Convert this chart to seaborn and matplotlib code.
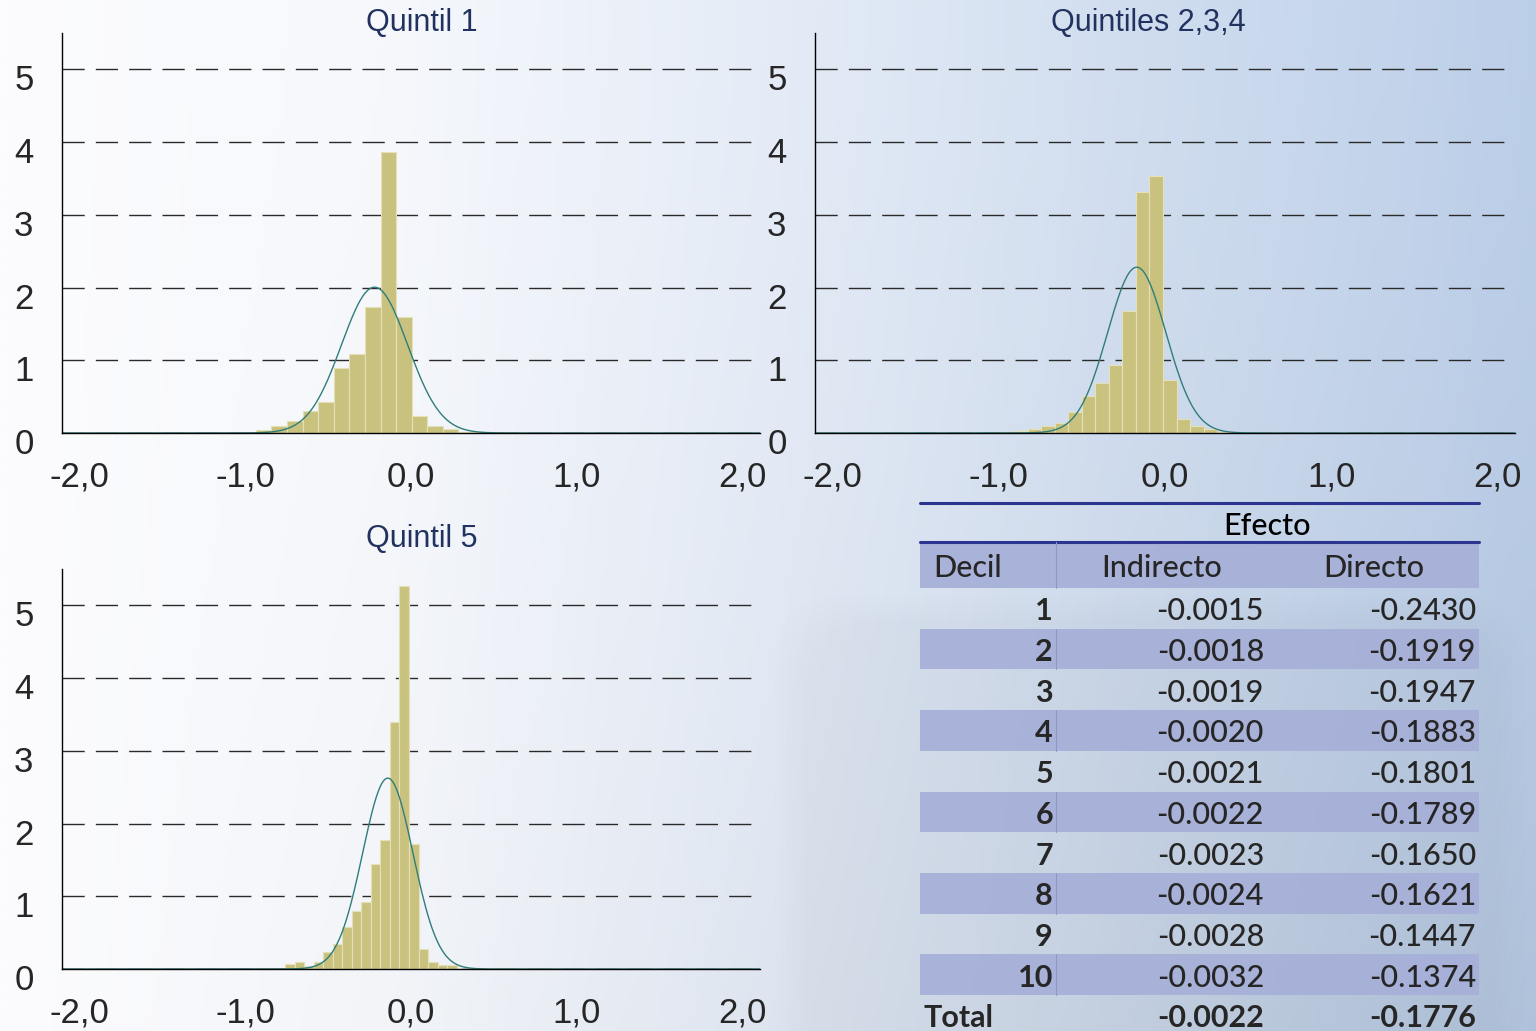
import numpy as np
import pandas as pd
import seaborn as sns
import matplotlib.pyplot as plt
from matplotlib import transforms
from matplotlib.colors import LinearSegmentedColormap
from matplotlib.patches import Rectangle, FancyBboxPatch

sns.set_style("white")
plt.rcParams['font.family'] = ['Liberation Sans', 'DejaVu Sans']

# histogram bins (first edge, bin width) and densities
q1_start, q1_width = -0.936, 0.094
q1_heights = [0.04, 0.09, 0.17, 0.30, 0.43, 0.89, 1.09, 1.73, 3.87, 1.59,
              0.24, 0.10, 0.05, 0.02, 0.01]
q234_start, q234_width = -0.990, 0.0815
q234_heights = [0.02, 0.03, 0.05, 0.09, 0.14, 0.29, 0.51, 0.69, 0.94, 1.68,
                3.31, 3.53, 0.73, 0.19, 0.10, 0.05, 0.01]
q5_start, q5_width = -0.932, 0.0575
q5_heights = [0.01, 0.01, 0.02, 0.07, 0.10, 0.04, 0.10, 0.23, 0.35, 0.58,
              0.80, 0.92, 1.45, 1.78, 3.39, 5.26, 1.72, 0.27, 0.09, 0.06,
              0.06, 0.0, 0.0, 0.0, 0.0, 0.02]

# fitted normal overlay (mean, sd)
q1_norm = (-0.22, 0.199)
q234_norm = (-0.17, 0.175)
q5_norm = (-0.14, 0.152)

titles = ['Quintil 1', 'Quintiles 2,3,4', 'Quintil 5']
x_ticks = [-2, -1, 0, 1, 2]
x_labels = ['-2,0', '-1,0', '0,0', '1,0', '2,0']
y_ticks = [0, 1, 2, 3, 4, 5]

# table
deciles = ['1', '2', '3', '4', '5', '6', '7', '8', '9', '10']
indirecto = ['-0.0015', '-0.0018', '-0.0019', '-0.0020', '-0.0021',
             '-0.0022', '-0.0023', '-0.0024', '-0.0028', '-0.0032']
directo = ['-0.2430', '-0.1919', '-0.1947', '-0.1883', '-0.1801',
           '-0.1789', '-0.1650', '-0.1621', '-0.1447', '-0.1374']
total_ind = '-0.0022'
total_dir = '-0.1776'

W, H = 1536, 1031
fig = plt.figure(figsize=(W / 100, H / 100), dpi=100)

# background: light gradient, white to pale blue
bg = fig.add_axes([0, 0, 1, 1], zorder=-5)
bg.set_xlim(0, W)
bg.set_ylim(H, 0)
bg.axis('off')
grad = LinearSegmentedColormap.from_list(
    'bg', [(0.0, '#fcfcfe'), (0.25, '#f6f8fc'), (0.5, '#e5ecf7'),
           (0.75, '#d0ddef'), (1.0, '#bccfe9')])
gx = np.linspace(0, 1, 400)
gy = np.linspace(0, 1, 200)
img = grad(gx)[None, :, :3].repeat(len(gy), axis=0)
shade = 1 - 0.06 * (gy[:, None] ** 1.5) * gx[None, :]
img = img * shade[:, :, None]
bg.imshow(img, extent=[0, W, H, 0], aspect='auto', interpolation='bilinear')
# faint ghost of the backdrop picture
for k in range(6):
    bg.add_patch(FancyBboxPatch((775 + k * 6, 595 + k * 5), 750 - k * 12, 500,
                                boxstyle='round,pad=0,rounding_size=70',
                                facecolor='#9aa3b3', edgecolor='none', alpha=0.008))

bar_color = '#c9c27e'
edge_color = '#e4e0b8'
curve_color = '#2f7d7b'


def draw_panel(ax, start, width, heights, norm, title, tx, ty):
    n = len(heights)
    centers = start + width * (np.arange(n) + 0.5)
    df = pd.DataFrame({'x': centers, 'd': heights})
    sns.histplot(data=df, x='x', weights='d', binwidth=width,
                 binrange=(start, start + n * width), stat='count',
                 color=bar_color, alpha=1, edgecolor=edge_color, linewidth=0.8, ax=ax)
    mu, sd = norm
    xs = np.linspace(-2.106, 2.106, 600)
    ys = np.exp(-0.5 * ((xs - mu) / sd) ** 2) / (sd * np.sqrt(2 * np.pi))
    sns.lineplot(x=xs, y=ys, color=curve_color, linewidth=1.0, ax=ax)
    ax.set_facecolor('none')
    ax.set_xlim(-2.106, 2.106)
    ax.set_ylim(0, 5.5)
    ax.set_xticks(x_ticks)
    ax.set_xticklabels(x_labels)
    ax.set_yticks(y_ticks)
    ax.set_xlabel('')
    ax.set_ylabel('')
    ax.set_axisbelow(True)
    ax.yaxis.grid(True, color='#2a2a2a', linestyle=(0, (16, 8)), linewidth=1.0)
    ax.xaxis.grid(False)
    for s in ['top', 'right']:
        ax.spines[s].set_visible(False)
    for s in ['left', 'bottom']:
        ax.spines[s].set_color('black')
        ax.spines[s].set_linewidth(1.0)
    ax.tick_params(axis='x', direction='out', length=7, width=1, color='black',
                   labelsize=25, pad=13)
    ax.tick_params(axis='y', direction='out', length=9.5, width=1, color='black',
                   labelsize=25, pad=11)
    off = transforms.ScaledTranslation(0, -8 / 100, fig.dpi_scale_trans)
    for lab in ax.get_yticklabels():
        lab.set_transform(lab.get_transform() + off)
    fig.text(tx / W, 1 - ty / H, title, ha='center', va='center',
             fontsize=22, color='#22325f')


ax1 = fig.add_axes([62 / W, 1 - 433 / H, 698 / W, 400 / H])
ax2 = fig.add_axes([815 / W, 1 - 433 / H, 700 / W, 400 / H])
ax3 = fig.add_axes([62 / W, 1 - 969 / H, 698 / W, 400 / H])
draw_panel(ax1, q1_start, q1_width, q1_heights, q1_norm, titles[0], 422, 23)
draw_panel(ax2, q234_start, q234_width, q234_heights, q234_norm, titles[1], 1148, 23)
draw_panel(ax3, q5_start, q5_width, q5_heights, q5_norm, titles[2], 422, 539)

# table drawn on the background axes (pixel layout)
tfont = ['Lato', 'DejaVu Sans']
tsize = 22
tw = 'medium'
line_c = '#2b3590'
band_c = '#a7b0d8'
sep_c = '#8e97c9'
tl, tr = 920, 1479
c1, c2 = 1056, 1268
row_h = 40.7
hdr_top, hdr_bot = 542, 588
dy = 3

bg.plot([tl, tr], [503, 503], color=line_c, lw=2.2)
bg.add_patch(Rectangle((tl, hdr_top), tr - tl, hdr_bot - hdr_top, facecolor=band_c,
                       edgecolor='none', alpha=0.95))
bg.plot([tl, tr], [hdr_top, hdr_top], color=line_c, lw=2.2)
bg.plot([c1, c1], [hdr_top, hdr_bot], color=sep_c, lw=0.8)
bg.text((c1 + tr) / 2, 523 + dy, 'Efecto', ha='center', va='center', fontsize=tsize,
        family=tfont, fontweight=tw, color='black')
hy = (hdr_top + hdr_bot) / 2 + dy
bg.text(933, hy, 'Decil', ha='left', va='center', fontsize=tsize, family=tfont, fontweight=tw)
bg.text((c1 + c2) / 2, hy, 'Indirecto', ha='center', va='center', fontsize=tsize,
        family=tfont, fontweight=tw)
bg.text((c2 + tr) / 2, hy, 'Directo', ha='center', va='center', fontsize=tsize,
        family=tfont, fontweight=tw)

for i, (d, vi, vd) in enumerate(zip(deciles, indirecto, directo)):
    y0 = hdr_bot + i * row_h
    yc = y0 + row_h / 2 + dy
    if i % 2 == 1:
        bg.add_patch(Rectangle((tl, y0), tr - tl, row_h, facecolor=band_c,
                               edgecolor='none', alpha=0.95))
        bg.plot([c1, c1], [y0, y0 + row_h], color=sep_c, lw=0.8)
    bg.text(1053, yc, d, ha='right', va='center', fontsize=tsize, family=tfont,
            fontweight='bold')
    bg.text(1264, yc, vi, ha='right', va='center', fontsize=tsize, family=tfont, fontweight=tw)
    bg.text(1476, yc, vd, ha='right', va='center', fontsize=tsize, family=tfont, fontweight=tw)

yt = hdr_bot + len(deciles) * row_h + row_h / 2 + dy
bg.text(923, yt, 'Total', ha='left', va='center', fontsize=tsize, family=tfont,
        fontweight='bold')
bg.text(1264, yt, total_ind, ha='right', va='center', fontsize=tsize, family=tfont,
        fontweight='bold')
bg.text(1476, yt, total_dir, ha='right', va='center', fontsize=tsize, family=tfont,
        fontweight='bold')

fig.savefig('out.png', dpi=100)
